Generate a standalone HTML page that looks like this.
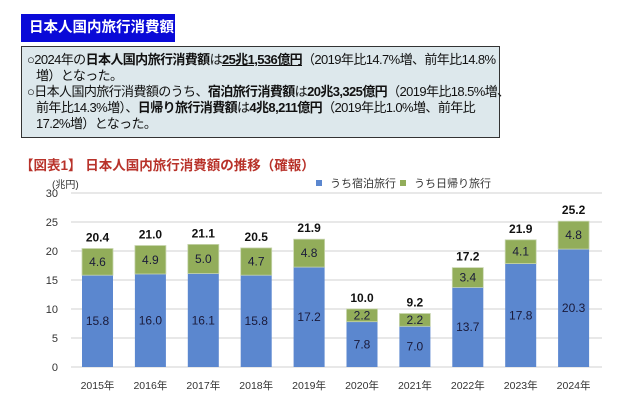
<!DOCTYPE html>
<html><head><meta charset="utf-8"><style>
body{margin:0;width:640px;height:407px;background:#fff;font-family:"Liberation Sans","Noto Sans CJK JP",sans-serif;overflow:hidden;position:relative}
.t{position:absolute;left:21px;top:14px;width:154px;height:28px;background:#0a0ad8;color:#fff;font-size:14.5px;font-weight:bold;line-height:28px;padding-left:8px;box-sizing:border-box;white-space:nowrap}
.box{position:absolute;left:21px;top:46px;width:479px;height:92px;background:#dde8ec;border:1px solid #333;box-sizing:border-box;font-size:13px;line-height:16px;color:#111;padding:5px 4px 0 5px;white-space:nowrap;letter-spacing:-0.6px}
.box p{margin:0}
b{font-weight:bold}
</style></head><body>
<div class="t">日本人国内旅行消費額</div>
<div class="box">
<p>○2024年の<b>日本人国内旅行消費額</b>は<b><u>25兆1,536億円</u></b>（2019年比14.7%増、前年比14.8%<br>&nbsp;&nbsp;&nbsp;増）となった。</p>
<p>○日本人国内旅行消費額のうち、<b>宿泊旅行消費額</b>は<b>20兆3,325億円</b>（2019年比18.5%増、<br>&nbsp;&nbsp;&nbsp;前年比14.3%増）、<b>日帰り旅行消費額</b>は<b>4兆8,211億円</b>（2019年比1.0%増、前年比<br>&nbsp;&nbsp;&nbsp;17.2%増）となった。</p>
</div>
<svg width="640" height="407" style="position:absolute;left:0;top:0" font-family="Liberation Sans, Noto Sans CJK JP, sans-serif">
<text x="20" y="170" font-size="13.5" font-weight="bold" fill="#b8322a">【図表1】 日本人国内旅行消費額の推移（確報）</text>
<text x="52" y="188" font-size="10" fill="#333">(兆円)</text>
<rect x="316" y="180" width="6" height="6" fill="#5b87cf"/><text x="330" y="187" font-size="11" fill="#333">うち宿泊旅行</text>
<rect x="400" y="180" width="6" height="6" fill="#92ad5a"/><text x="414" y="187" font-size="11" fill="#333">うち日帰り旅行</text>
<g stroke="#d9d9d9" stroke-width="1.2">
<line x1="71" x2="602" y1="193" y2="193"/><line x1="71" x2="602" y1="222" y2="222"/><line x1="71" x2="602" y1="251" y2="251"/><line x1="71" x2="602" y1="280" y2="280"/><line x1="71" x2="602" y1="309" y2="309"/><line x1="71" x2="602" y1="338" y2="338"/><line x1="71" x2="602" y1="367" y2="367"/>
</g>
<g font-size="11" fill="#333" text-anchor="end">
<text x="58" y="197">30</text><text x="58" y="226">25</text><text x="58" y="255">20</text><text x="58" y="284">15</text><text x="58" y="313">10</text><text x="58" y="342">5</text><text x="58" y="371">0</text>
</g>
<g fill="#5b87cf">
<rect x="82" y="275.2" width="31" height="91.8"/>
<rect x="134.9" y="274" width="31" height="93"/>
<rect x="187.8" y="273.5" width="31" height="93.5"/>
<rect x="240.7" y="275.2" width="31" height="91.8"/>
<rect x="293.6" y="267.1" width="31" height="99.9"/>
<rect x="346.5" y="321.7" width="31" height="45.3"/>
<rect x="399.4" y="326.3" width="31" height="40.7"/>
<rect x="452.3" y="287.4" width="31" height="79.6"/>
<rect x="505.2" y="263.6" width="31" height="103.4"/>
<rect x="558.1" y="249.1" width="31" height="117.9"/>
</g>
<g fill="#92ad5a" stroke="#c9d6b0" stroke-width="0.8">
<rect x="82" y="248.5" width="31" height="26.7"/>
<rect x="134.9" y="245.5" width="31" height="28.5"/>
<rect x="187.8" y="244.4" width="31" height="29.1"/>
<rect x="240.7" y="247.9" width="31" height="27.3"/>
<rect x="293.6" y="239.2" width="31" height="27.9"/>
<rect x="346.5" y="308.9" width="31" height="12.8"/>
<rect x="399.4" y="313.5" width="31" height="12.8"/>
<rect x="452.3" y="267.6" width="31" height="19.8"/>
<rect x="505.2" y="239.8" width="31" height="23.8"/>
<rect x="558.1" y="221.2" width="31" height="27.9"/>
</g>
<g font-size="12" fill="#1a1a3a" text-anchor="middle">
<text x="97.5" y="325.1">15.8</text><text x="150.4" y="324.5">16.0</text><text x="203.3" y="324.3">16.1</text><text x="256.2" y="325.1">15.8</text><text x="309.1" y="321">17.2</text><text x="362" y="348.3">7.8</text><text x="414.9" y="350.7">7.0</text><text x="467.8" y="331.2">13.7</text><text x="520.7" y="319.3">17.8</text><text x="573.6" y="312">20.3</text>
<text x="97.5" y="265.9">4.6</text><text x="150.4" y="263.8">4.9</text><text x="203.3" y="263">5.0</text><text x="256.2" y="265.6">4.7</text><text x="309.1" y="257.2">4.8</text><text x="362" y="319.3">2.2</text><text x="414.9" y="323.9">2.2</text><text x="467.8" y="281.5">3.4</text><text x="520.7" y="255.7">4.1</text><text x="573.6" y="239.2">4.8</text>
</g>
<g font-size="12" font-weight="bold" fill="#111" text-anchor="middle">
<text x="97.5" y="241.5">20.4</text><text x="150.4" y="238.5">21.0</text><text x="203.3" y="237.4">21.1</text><text x="256.2" y="240.9">20.5</text><text x="309.1" y="232.2">21.9</text><text x="362" y="301.9">10.0</text><text x="414.9" y="306.5">9.2</text><text x="467.8" y="260.6">17.2</text><text x="520.7" y="232.8">21.9</text><text x="573.6" y="214.2">25.2</text>
</g>
<g font-size="10.5" fill="#333" text-anchor="middle">
<text x="97.5" y="389">2015年</text><text x="150.4" y="389">2016年</text><text x="203.3" y="389">2017年</text><text x="256.2" y="389">2018年</text><text x="309.1" y="389">2019年</text><text x="362" y="389">2020年</text><text x="414.9" y="389">2021年</text><text x="467.8" y="389">2022年</text><text x="520.7" y="389">2023年</text><text x="573.6" y="389">2024年</text>
</g>
</svg>
</body></html>
